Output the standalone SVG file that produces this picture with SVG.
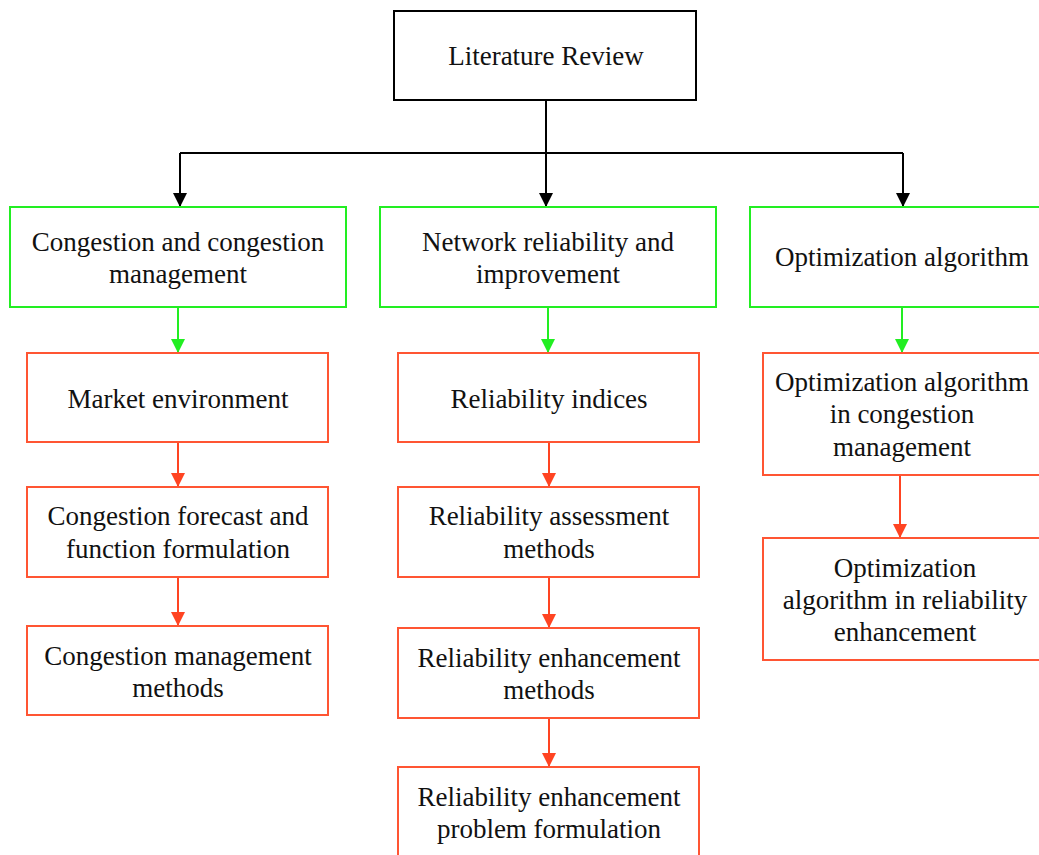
<svg xmlns="http://www.w3.org/2000/svg" width="1039" height="855" viewBox="0 0 1039 855">
  <style>
    .root { fill: #fff; stroke: #000; stroke-width: 2; }
    .top { fill: #fff; stroke: #22ee22; stroke-width: 2; }
    .sub { fill: #fff; stroke: #ff5533; stroke-width: 2; }
    text { font-family: "Liberation Serif", "Times New Roman", serif; font-size: 27px; fill: #111; text-anchor: middle; }
    .k { fill: none; stroke: #000; stroke-width: 2; }
    .g { fill: none; stroke: #22ee22; stroke-width: 2; }
    .r { fill: none; stroke: #ff4422; stroke-width: 2; }
  </style>
  <defs>
    <marker id="ak" markerWidth="14" markerHeight="14" viewBox="0 0 14 14" refX="14" refY="7" orient="auto" markerUnits="userSpaceOnUse">
      <path d="M0,0 L14,7 L0,14 Z" fill="#000"/>
    </marker>
    <marker id="ag" markerWidth="14" markerHeight="14" viewBox="0 0 14 14" refX="14" refY="7" orient="auto" markerUnits="userSpaceOnUse">
      <path d="M0,0 L14,7 L0,14 Z" fill="#22ee22"/>
    </marker>
    <marker id="ar" markerWidth="14" markerHeight="14" viewBox="0 0 14 14" refX="14" refY="7" orient="auto" markerUnits="userSpaceOnUse">
      <path d="M0,0 L14,7 L0,14 Z" fill="#ff4422"/>
    </marker>
  </defs>
  <rect width="1039" height="855" fill="#fff"/>

  <g id="connectors">
    <path class="k" d="M546,100 V153"/>
    <path class="k" d="M180,153 H903"/>
    <path class="k" d="M546,153 V207" marker-end="url(#ak)"/>
    <path class="k" d="M180,153 V207" marker-end="url(#ak)"/>
    <path class="k" d="M903,153 V207" marker-end="url(#ak)"/>
    <path class="g" d="M178,307 V353" marker-end="url(#ag)"/>
    <path class="g" d="M548,307 V353" marker-end="url(#ag)"/>
    <path class="g" d="M902,307 V353" marker-end="url(#ag)"/>
    <path class="r" d="M178,442 V487" marker-end="url(#ar)"/>
    <path class="r" d="M178,577 V626" marker-end="url(#ar)"/>
    <path class="r" d="M549,442 V487" marker-end="url(#ar)"/>
    <path class="r" d="M549,577 V628" marker-end="url(#ar)"/>
    <path class="r" d="M549,718 V767" marker-end="url(#ar)"/>
    <path class="r" d="M900,475 V538" marker-end="url(#ar)"/>
  </g>

  <g id="literature-review">
    <rect class="root" x="394" y="11" width="302" height="89"/>
    <text x="546" y="65">Literature Review</text>
  </g>

  <g id="congestion">
    <rect class="top" x="10" y="207" width="336" height="100"/>
    <text x="178" y="251">Congestion and congestion</text>
    <text x="178" y="283">management</text>
  </g>
  <g id="network-reliability">
    <rect class="top" x="380" y="207" width="336" height="100"/>
    <text x="548" y="251">Network reliability and</text>
    <text x="548" y="283">improvement</text>
  </g>
  <g id="optimization">
    <rect class="top" x="750" y="207" width="300" height="100"/>
    <text x="902" y="266">Optimization algorithm</text>
  </g>

  <g id="market-environment">
    <rect class="sub" x="27" y="353" width="301" height="89"/>
    <text x="178" y="408">Market environment</text>
  </g>
  <g id="congestion-forecast">
    <rect class="sub" x="27" y="487" width="301" height="90"/>
    <text x="178" y="525">Congestion forecast and</text>
    <text x="178" y="558">function formulation</text>
  </g>
  <g id="congestion-methods">
    <rect class="sub" x="27" y="626" width="301" height="89"/>
    <text x="178" y="665">Congestion management</text>
    <text x="178" y="697">methods</text>
  </g>

  <g id="reliability-indices">
    <rect class="sub" x="398" y="353" width="301" height="89"/>
    <text x="549" y="408">Reliability indices</text>
  </g>
  <g id="reliability-assessment">
    <rect class="sub" x="398" y="487" width="301" height="90"/>
    <text x="549" y="525">Reliability assessment</text>
    <text x="549" y="558">methods</text>
  </g>
  <g id="reliability-enhancement">
    <rect class="sub" x="398" y="628" width="301" height="90"/>
    <text x="549" y="667">Reliability enhancement</text>
    <text x="549" y="699">methods</text>
  </g>
  <g id="reliability-problem">
    <rect class="sub" x="398" y="767" width="301" height="100"/>
    <text x="549" y="806">Reliability enhancement</text>
    <text x="549" y="838">problem formulation</text>
  </g>

  <g id="opt-congestion">
    <rect class="sub" x="763" y="353" width="290" height="122"/>
    <text x="902" y="391">Optimization algorithm</text>
    <text x="902" y="423">in congestion</text>
    <text x="902" y="456">management</text>
  </g>
  <g id="opt-reliability">
    <rect class="sub" x="763" y="538" width="290" height="122"/>
    <text x="905" y="577">Optimization</text>
    <text x="905" y="609">algorithm in reliability</text>
    <text x="905" y="641">enhancement</text>
  </g>
</svg>
